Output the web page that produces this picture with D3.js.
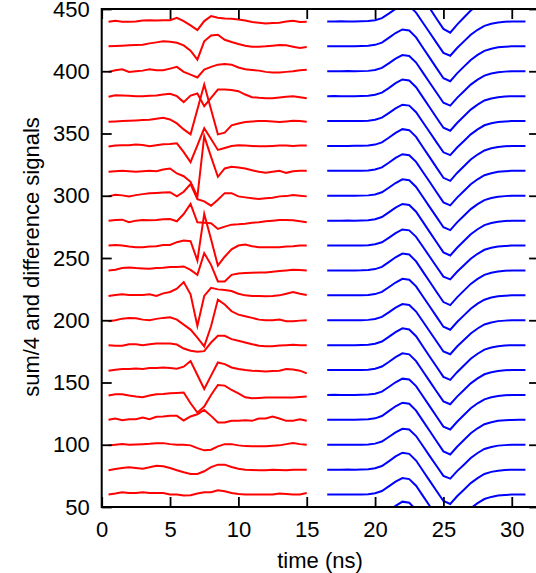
<!DOCTYPE html>
<html><head><meta charset="utf-8">
<script src="https://cdn.jsdelivr.net/npm/d3@7"></script>
<style>
body{margin:0;background:#fff}
svg{display:block}
text{font-family:"Liberation Sans",Arial,Helvetica,sans-serif;fill:#000}
</style>
</head><body>
<svg id="chart" width="536" height="573"></svg>
<script>
// ---------- data ----------
const xTicks = [0,5,10,15,20,25,30];
const yTicks = [50,100,150,200,250,300,350,400,450];
const xLabel = "time (ns)";
const yLabel = "sum/4 and difference signals";

const redTime  = [0.5,1,1.5,2,2.5,3,3.5,4,4.5,5,5.5,6,6.5,7,7.5,8,8.5,9,9.5,10,10.5,11,11.5,12,12.5,13,13.5,14,14.5,15];
const blueTime = [16.5,17,17.5,18,18.5,19,19.5,20,20.5,21,21.5,22,22.5,23,23.5,24,24.5,25,25.5,26,26.5,27,27.5,28,28.5,29,29.5,30,30.5,31];

const redOffsets  = [60,80,100,120,140,160,180,200,220,240,260,280,300,320,340,360,380,400,420,440];
const blueOffsets = [40,60,80,100,120,140,160,180,200,220,240,260,280,300,320,340,360,380,400,420,440,460];

// difference signals (red), deviation from each trace's offset
const r060 = [0,0.8,1.9,1.3,1.3,1.9,1.3,1.3,1.3,0, 0,-0.8,-0.5,0.8,1.9,1.9,3.5,2.7,1.3,0.5, 0,0,0,0,0,0.8,0.5,0,0,1.3];
const r080 = [-0.5,0.5,1.3,1.9,1.3,0.8,1.9,3.2,2.7,1.3, -0.5,-2.1,-3.5,-3.5,-1.3,2.1,4,4,2.1,0.8, 0,-0.3,-0.5,-0.5,0,-0.3,-0.5,0,0,0];
const r100 = [-0.5,0,0.5,0,0.3,0.5,0.8,1.3,1.3,0.5, 0,0,-0.5,-2.7,-4.5,-4,-1.3,0.5,0.5,-0.5, -1.1,-1.3,-1.3,-1.3,-0.8,-0.5,0.5,1.3,0.5,0];
const r120 = [0,1.1,-0.3,0.5,0.5,1.9,0.5,2.4,2.7,3.2, 3.2,-0.5,2.7,4.5,8,3.2,-2.1,-2.1,-0.8,-0.8, -0.3,-0.8,1.1,1.1,2.7,1.1,-0.8,-0.8,0.5,-0.8];
const r140 = [-0.5,0.5,0.5,-0.5,-1.3,-1.9,-0.5,0.5,0.8,1.3, 1.6,1.9,-6.7,-14.2,-9.3,0,8,7.5,4,1.3, -1.9,-2.7,-2.4,-2.1,-2.1,-2.1,-2.1,-2.1,-1.6,-1.3];
const r160 = [-0.5,0.3,0.8,0.8,1.3,0.8,1.6,1.6,2.1,1.6, 1.1,2.7,7.2,-4,-15.2,-4.5,6.1,4.8,2.1,0.8, 0,-0.5,-0.8,-1.1,-0.8,-0.5,0.8,0.5,-0.5,-2.7];
const r180 = [0,-0.5,-0.5,0.8,0.8,0,0.8,1.3,1.3,1.3, 0.5,-2.7,-4.5,-5.3,-4.8,2.1,7.5,7.5,4.8,3.5, 2.1,0.8,-0.5,-0.8,-0.8,-0.3,0,0.3,0,0];
const r200 = [-0.8,0,1.3,1.9,1.6,0.5,0,1.1,1.9,2.4, 0.5,-3.5,-7.5,-14,-21,-4.8,16.6,12.6,7.2,4.5, 3.2,1.9,0.5,0,0,0.5,-0.8,-0.8,-0.3,0];
const r220 = [-0.5,0.3,0.8,0.3,0.3,0.3,0.8,-0.5,1.6,2.7, 5.3,10.7,0.8,-24.6,-0.5,6.1,4.8,4.3,3.5,1.3, 0,-0.5,-0.5,-0.8,-0.5,0,1.3,2.7,1.3,0.3];
const r240 = [0,0.5,1.9,2.4,1.9,1.6,1.3,1.9,2.1,2.7, 2.7,3.2,0.5,-3.5,13.9,4.5,-8.8,-8.8,-3.5,-2.4, -2.1,-1.9,-1.6,-1.6,-1.1,-0.5,0,0.5,0.3,0];
const r260 = [0,0.5,0,-0.8,-1.3,-1.3,-0.8,-0.5,0.5,0.5, 2.7,4,3.5,-12,25.4,5,-16,-9,-3,0, 0.8,-0.5,-1.3,-1.3,-1.3,-1.3,-0.8,-0.5,0,0];
const r280 = [0,0.5,0.8,-1.3,0,0.5,0.3,0.5,1.1,1.3, -0.5,5.3,13.4,-1.3,-1.6,-2,-6.7,-4.8,-3.2,-2.9, -2.4,-1.6,-1.3,-0.5,0,0.5,0.5,0.3,-0.5,-1.3];
const r300 = [-0.5,0.8,0.3,-0.5,0.5,1.3,2,2.3,2.7,2.9, -0.5,3.2,9.3,-2.7,-4.5,-8,-3.2,2.1,2.1,-0.5, -1.3,-2,-2.7,-2,-1.6,-0.5,-0.3,0.5,0,-0.5];
const r320 = [-0.8,-0.3,0,-0.3,-0.8,-0.3,0,-0.3,1.1,1.9, -2.1,-4.3,-8.8,-20.8,27.8,11.2,-4.8,1.9,3.2,2.7, 1.9,0.5,-0.8,-1.6,-0.8,0,-1.6,-0.3,0,0];
const r340 = [-0.5,0.3,0.5,0.5,1.1,0.8,-0.3,0.5,1.3,1.6, 2.1,-5,-13,0.5,14.2,5.6,-3.2,-1.6,0,0.5, 0.3,0,-0.3,-0.3,0,0.3,0.3,0,0.3,0.3];
const r360 = [-0.5,-0.3,0,0.3,0.5,0.8,1.1,1.9,2.7,1.3, -1.9,-6.7,-10.7,9.3,29.4,9.3,-10.7,-9.3,-3.5,-1.9, -0.8,-0.3,0,0,-0.3,-0.8,-0.3,0.3,0,-0.5];
const r380 = [-0.5,0.8,0.5,0.3,0,0,0.3,0.5,1.3,1.9, 0,-4.8,0.5,2.1,-8,-1.3,5.3,5.3,5,4, 1.3,-0.8,-1.3,-1.6,-1.6,-1,-0.5,0,-0.8,-1.6];
const r400 = [-0.5,0.8,1.6,-0.5,0,0.5,1.6,0.8,0.8,2.1, 3.5,-0.5,-2.7,-5,1.3,3.5,5.3,5.9,5.3,3, 1.6,1,0.5,-0.5,-1,-1,-0.5,0,0.8,1.3];
const r420 = [0,0.3,0.5,0.8,1,1.3,2.4,3.2,4,3.7, 2.9,0.8,-3.5,-10.7,4,8.8,9.3,5.3,3.5,1.9, 0.5,-0.3,-0.3,0,0.5,1,0.8,-0.3,-1.3,-0.5];
const r440 = [-0.3,0.5,-0.3,-0.3,0,0.8,1,0.8,1,1, 2.9,0.3,-3.2,-7,0.3,4.3,2.9,2.4,2.1,1.6, 0.8,-0.5,-1,-1.6,-1.3,-1,0,0.5,-0.5,-0.3];

// sum/4 signals (blue), deviation from each trace's offset
const b040 = [0,0,0,0,0,0.1,0.4,1.2,3,6.9,10.9,14.3,13.4,7.8,-0.6,-8.8,-17,-25,-27.5,-21.5,-16,-10.8,-6.8,-3.6,-1.9,-0.9,-0.4,-0.1,0,0];
const b060 = [0,0.1,0,0,0.1,0.1,0.3,1,2.8,6.6,10.4,13.2,12.4,7.1,-1.1,-9.2,-17.3,-25.4,-28,-21.8,-16.3,-11,-6.9,-3.6,-1.9,-0.8,-0.3,0,0,0.1];
const b080 = [0,0,0,0.1,0,0.2,0.4,1.1,2.9,6.7,10.6,13.6,12.7,7.3,-0.9,-9,-17.2,-25.2,-27.6,-21.4,-16.1,-10.8,-6.8,-3.5,-1.8,-0.8,-0.2,0,0,0];
const b100 = [0,0,0.1,0,0,0.1,0.3,0.9,2.6,6.2,9.9,12.8,12.2,7,-1,-9.1,-17.1,-25,-27.2,-21.2,-16,-10.6,-6.6,-3.4,-1.8,-0.7,-0.3,0,0,0];
const b120 = [0,0,0,0,0,0.2,0.4,1.2,3.1,7,10.9,13.8,12.9,7.4,-0.8,-9,-17.2,-25.3,-27.8,-21.6,-16.2,-10.8,-6.8,-3.5,-1.9,-0.8,-0.3,-0.1,0,0];
const b140 = [0,0.1,0,0,0,0.1,0.3,1,2.7,6.4,10.2,13.1,12.4,7.1,-1,-9.2,-17.3,-25.4,-27.7,-21.5,-16.1,-10.7,-6.7,-3.5,-1.8,-0.8,-0.3,0,0,0];
const b160 = [0,0,0,0.1,0,0.1,0.3,1.1,2.8,6.5,10.4,13.4,12.6,7.2,-1,-9.1,-17.2,-25.2,-27.5,-21.3,-16,-10.7,-6.7,-3.4,-1.8,-0.7,-0.2,0,0,0];
const b180 = [0,0,0,0,0,0.2,0.4,1.1,2.9,6.6,10.5,13.5,12.6,7.2,-1.1,-9.3,-17.4,-25.5,-27.9,-21.7,-16.3,-10.9,-6.9,-3.6,-1.9,-0.8,-0.3,0,0,0];
const b200 = [0,0,0.1,0,0,0.1,0.3,1,2.7,6.3,10.1,13,12.3,7,-1,-9,-17.1,-25.1,-27.3,-21.1,-15.9,-10.6,-6.6,-3.4,-1.8,-0.7,-0.3,0,0,0];
const b220 = [0,0,0,0,0.1,0.1,0.3,1,2.8,6.5,10.3,13.3,12.5,7.2,-0.9,-9,-17.1,-25.2,-27.6,-21.4,-16.1,-10.7,-6.7,-3.5,-1.8,-0.8,-0.3,0,0,0];
const b240 = [0,0,0,0,0,0.1,0.4,1.1,2.9,6.7,10.6,13.6,12.8,7.3,-0.9,-9.1,-17.3,-25.4,-27.8,-21.6,-16.2,-10.8,-6.8,-3.5,-1.9,-0.8,-0.3,0,0,0];
const b260 = [0,0.1,0,0,0,0.1,0.3,1,2.6,6.2,9.9,12.9,12.2,7,-1,-9,-17,-25,-27.2,-21.1,-15.9,-10.6,-6.6,-3.4,-1.8,-0.7,-0.3,0,0,0];
const b280 = [0,0,0,0.1,0,0.2,0.4,1.1,2.9,6.6,10.5,13.4,12.6,7.2,-1,-9.2,-17.4,-25.5,-28,-21.8,-16.3,-10.9,-6.9,-3.6,-1.9,-0.8,-0.3,-0.1,0,0];
const b300 = [0,0,0,0,0,0.1,0.3,1,2.8,6.4,10.2,13.2,12.4,7.1,-1,-9.1,-17.2,-25.3,-27.6,-21.4,-16.1,-10.7,-6.7,-3.5,-1.8,-0.8,-0.3,0,0,0];
const b320 = [0,0,0.1,0,0,0.1,0.3,1.1,2.8,6.5,10.4,13.4,12.6,7.2,-0.9,-9,-17.2,-25.3,-27.7,-21.5,-16.2,-10.8,-6.8,-3.5,-1.9,-0.8,-0.3,0,0,0];
const b340 = [0,0,0,0,0.1,0.1,0.4,1.1,2.9,6.6,10.5,13.5,12.7,7.3,-1,-9.2,-17.4,-25.6,-28,-21.7,-16.3,-10.9,-6.9,-3.6,-1.9,-0.8,-0.3,0,0,0];
const b360 = [0,0,0,0,0,0.1,0.3,1,2.7,6.4,10.2,13.1,12.4,7.1,-1,-9,-17.1,-25.1,-27.4,-21.3,-16,-10.7,-6.7,-3.4,-1.8,-0.7,-0.3,0,0,0];
const b380 = [0,0.1,0,0,0,0.2,0.4,1.1,2.8,6.5,10.4,13.4,12.6,7.2,-1,-9.1,-17.3,-25.4,-27.8,-21.6,-16.2,-10.8,-6.8,-3.5,-1.9,-0.8,-0.3,0,0,0];
const b400 = [0,0,0,0.1,0,0.1,0.3,1,2.7,6.3,10.1,13,12.3,7,-1.1,-9.2,-17.3,-25.3,-27.6,-21.4,-16.1,-10.7,-6.7,-3.5,-1.8,-0.8,-0.3,0,0,0];
const b420 = [0,0,0,0,0,0.2,0.4,1.2,3,6.8,10.7,13.6,12.7,7.2,-1.1,-9.3,-17.5,-25.6,-28,-21.7,-16.3,-10.9,-6.9,-3.6,-1.9,-0.8,-0.3,0,0,0];
const b440 = [0,0,0.1,0,0,0.1,0.3,1,2.7,6.3,10.1,13.1,12.4,7.1,-1,-9.1,-17.2,-25.2,-27.5,-21.3,-16,-10.7,-6.7,-3.5,-1.8,-0.8,-0.3,0,0,0];
const b460 = [0,0,0,0,0,0.1,0.3,1.1,2.8,6.5,10.3,13.2,12.5,7.2,-1.1,-9.4,-17.8,-26,-29,-22.5,-16.8,-11.2,-7,-3.7,-2,-0.9,-0.4,-0.1,0,0];

const redSignals  = [r060,r080,r100,r120,r140,r160,r180,r200,r220,r240,r260,r280,r300,r320,r340,r360,r380,r400,r420,r440];
const blueSignals = [b040,b060,b080,b100,b120,b140,b160,b180,b200,b220,b240,b260,b280,b300,b320,b340,b360,b380,b400,b420,b440,b460];

// ---------- drawing ----------
const svg = d3.select("#chart");
const L = 101.7, R = 539.1, T = 9, B = 507;
const x = d3.scaleLinear().domain([0, 32]).range([L, R]);
const y = d3.scaleLinear().domain([50, 450]).range([B, T]);

svg.append("defs").append("clipPath").attr("id", "plotclip")
  .append("rect").attr("x", L).attr("y", T).attr("width", R - L).attr("height", B - T);

const plot = svg.append("g").attr("clip-path", "url(#plotclip)");
const line = d3.line().x(d => x(d[0])).y(d => y(d[1]));

redSignals.forEach((sig, i) => {
  const pts = sig.map((v, j) => [redTime[j], redOffsets[i] + v]);
  plot.append("path").attr("d", line(pts))
    .attr("fill", "none").attr("stroke", "#ff0000").attr("stroke-width", 2)
    .attr("stroke-linejoin", "miter").attr("stroke-miterlimit", 10);
});
blueSignals.forEach((sig, i) => {
  const pts = sig.map((v, j) => [blueTime[j], blueOffsets[i] + v]);
  plot.append("path").attr("d", line(pts))
    .attr("fill", "none").attr("stroke", "#0000ff").attr("stroke-width", 2)
    .attr("stroke-linejoin", "miter");
});

const fs = 22;
const gb = svg.append("g").attr("transform", `translate(0,${B})`)
  .call(d3.axisBottom(x).tickValues(xTicks).tickFormat(d3.format("d"))
        .tickSizeInner(-10).tickSizeOuter(0).tickPadding(14));
const gt = svg.append("g").attr("transform", `translate(0,${T})`)
  .call(d3.axisTop(x).tickValues(xTicks).tickFormat("").tickSizeInner(-10).tickSizeOuter(0));
const gl = svg.append("g").attr("transform", `translate(${L},0)`)
  .call(d3.axisLeft(y).tickValues(yTicks).tickFormat(d3.format("d"))
        .tickSizeInner(-10).tickSizeOuter(0).tickPadding(12));
const gr = svg.append("g").attr("transform", `translate(${R},0)`)
  .call(d3.axisRight(y).tickValues(yTicks).tickFormat("").tickSizeInner(-10).tickSizeOuter(0));

[gb, gt, gl, gr].forEach(g => {
  g.select(".domain").remove();
  g.selectAll(".tick line").attr("stroke", "#000").attr("stroke-width", 1.8);
  g.selectAll("text").attr("font-size", fs).attr("font-family", "Liberation Sans, Arial, sans-serif").attr("fill", "#000");
});

svg.append("rect").attr("x", L).attr("y", T).attr("width", R - L).attr("height", B - T)
  .attr("fill", "none").attr("stroke", "#000").attr("stroke-width", 2);

svg.append("text").attr("x", 320).attr("y", 568).attr("text-anchor", "middle")
  .attr("font-size", 22).text(xLabel);
svg.append("text").attr("transform", "translate(39,257) rotate(-90)").attr("text-anchor", "middle")
  .attr("font-size", 22).text(yLabel);
</script>
</body></html>
